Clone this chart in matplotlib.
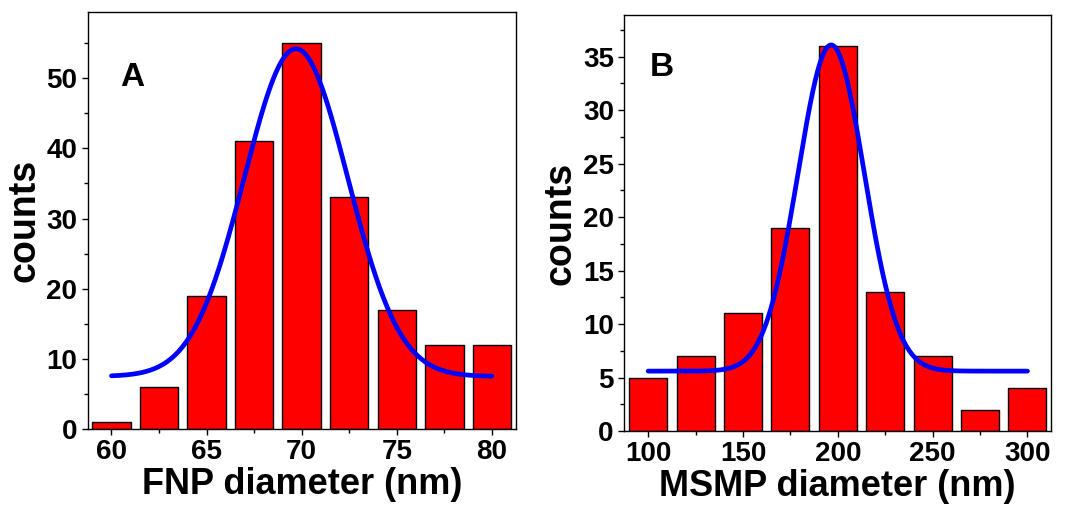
import numpy as np
import matplotlib
matplotlib.use("Agg")
import matplotlib.pyplot as plt
from matplotlib.ticker import MultipleLocator

plt.rcParams['font.family'] = ['Liberation Sans', 'DejaVu Sans']
plt.rcParams['font.weight'] = 'bold'

# Panel A data
fnp_centers = [60, 62.5, 65, 67.5, 70, 72.5, 75, 77.5, 80]
fnp_counts = [1, 6, 19, 41, 55, 33, 17, 12, 12]
# Gaussian fit parameters (baseline, height, center, sigma)
fnp_fit = dict(y0=7.5, h=46.7, xc=69.7, sigma=2.72)
fnp_fit_range = (60, 80)

# Panel B data
msmp_centers = [100, 125, 150, 175, 200, 225, 250, 275, 300]
msmp_counts = [5, 7, 11, 19, 36, 13, 7, 2, 4]
msmp_fit = dict(y0=5.6, h=30.5, xc=196.5, sigma=17.5)
msmp_fit_range = (100, 300)

fig = plt.figure(figsize=(10.71, 5.16), dpi=100)
axA = fig.add_axes([0.0819, 0.1686, 0.3996, 0.8076])
axB = fig.add_axes([0.5829, 0.1647, 0.3984, 0.8062])


def gauss(x, p):
    return p['y0'] + p['h'] * np.exp(-0.5 * ((x - p['xc']) / p['sigma']) ** 2)


def panel(ax, centers, counts, fit, frange, width, xlim, ylim, xmaj, xmin, ymaj, ymin,
          xlabel, letter, letter_xy):
    ax.bar(centers, counts, width=width, color='#ff0000', edgecolor='black', linewidth=1.0, zorder=2)
    xs = np.linspace(frange[0], frange[1], 400)
    ax.plot(xs, gauss(xs, fit), color='#0000ff', lw=3.4, zorder=3, solid_capstyle='round')
    ax.set_xlim(*xlim)
    ax.set_ylim(*ylim)
    ax.xaxis.set_major_locator(MultipleLocator(xmaj))
    ax.xaxis.set_minor_locator(MultipleLocator(xmin))
    ax.yaxis.set_major_locator(MultipleLocator(ymaj))
    ax.yaxis.set_minor_locator(MultipleLocator(ymin))
    ax.tick_params(axis='both', which='major', direction='out', length=4.5, width=1.0,
                   labelsize=20, top=False, right=False, pad=3)
    ax.tick_params(axis='both', which='minor', direction='out', length=3, width=1.0,
                   top=False, right=False)
    for lab in ax.get_xticklabels() + ax.get_yticklabels():
        lab.set_fontweight('bold')
    for s in ax.spines.values():
        s.set_linewidth(1.0)
    ax.set_xlabel(xlabel, fontsize=26, fontweight='bold', labelpad=1)
    ax.set_ylabel('counts', fontsize=27, fontweight='bold', labelpad=3)
    ax.text(letter_xy[0], letter_xy[1], letter, fontsize=24, fontweight='bold', ha='left', va='baseline')


panel(axA, fnp_centers, fnp_counts, fnp_fit, fnp_fit_range, 2.02, (58.75, 81.25), (0, 59.4),
      5, 2.5, 10, 5, 'FNP diameter (nm)', 'A', (60.45, 48.9))
panel(axB, msmp_centers, msmp_counts, msmp_fit, msmp_fit_range, 20, (87.4, 312.4), (0, 38.9),
      50, 25, 5, 2.5, 'MSMP diameter (nm)', 'B', (100.9, 33.2))

fig.savefig('out.png', dpi=100)
